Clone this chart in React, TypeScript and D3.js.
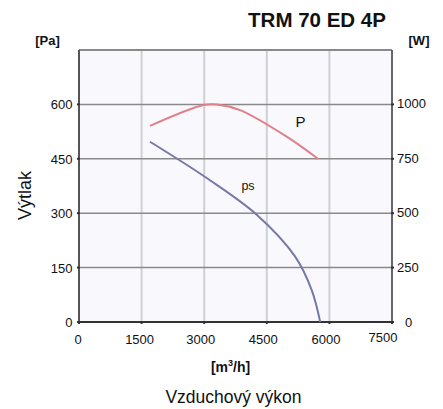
import React from "react";
import * as d3 from "d3";

const xTicks = [0, 1500, 3000, 4500, 6000, 7500];
const yLeftTicks = [0, 150, 300, 450, 600];
const yRightTicks = [0, 250, 500, 750, 1000];

// P curve (W, right axis)
const powerFlow = [1701, 2979, 3300, 3858, 4977, 5734];
const powerW = [901, 997, 1000, 974, 852, 749];

// ps curve (Pa, left axis)
const psFlow = [1701, 3060, 4258, 5176, 5576, 5780];
const psPa = [497, 397, 296, 181, 88, 0];

const W = 443;
const H = 409;
const left = 79;
const right = 392;
const top = 50;
const bottom = 322;

export default function App() {
  const x = d3.scaleLinear().domain([0, 7500]).range([left, right]);
  const yL = d3.scaleLinear().domain([0, 750]).range([bottom, top]);
  const yR = d3.scaleLinear().domain([0, 1250]).range([bottom, top]);

  const powerLine = d3
    .line<number>()
    .x((_, i) => x(powerFlow[i]))
    .y((d) => yR(d))
    .curve(d3.curveCatmullRom.alpha(0.5))(powerW) as string;
  const psLine = d3
    .line<number>()
    .x((_, i) => x(psFlow[i]))
    .y((d) => yL(d))
    .curve(d3.curveCatmullRom.alpha(0.5))(psPa) as string;

  const font = "'Liberation Sans', Arial, sans-serif";

  return (
    <svg
      width={W}
      height={H}
      style={{ position: "absolute", left: 0, top: 0, background: "#fff" }}
      fontFamily={font}
    >
      <rect x={left} y={top} width={right - left} height={bottom - top} fill="#f9f9fd" />
      {xTicks.slice(1, -1).map((t) => (
        <line key={"vx" + t} x1={x(t)} x2={x(t)} y1={top} y2={bottom} stroke="#cfcfd6" strokeWidth={2} />
      ))}
      {yLeftTicks.slice(1).map((t) => (
        <line key={"hy" + t} x1={left} x2={right} y1={yL(t)} y2={yL(t)} stroke="#8a8a8a" strokeWidth={1.5} />
      ))}
      <line x1={left} x2={right} y1={top} y2={top} stroke="#8a8a8a" strokeWidth={2} />
      <line x1={left} x2={right} y1={bottom} y2={bottom} stroke="#333" strokeWidth={2} />
      <line x1={left} x2={left} y1={top} y2={bottom} stroke="#555" strokeWidth={2} />
      <line x1={right} x2={right} y1={top} y2={bottom} stroke="#666" strokeWidth={2} />

      {xTicks.map((t) => (
        <line key={"tx" + t} x1={x(t)} x2={x(t)} y1={bottom - 1} y2={bottom + 2} stroke="#333" strokeWidth={2} />
      ))}
      {yLeftTicks.map((t) => (
        <line key={"tl" + t} x1={left - 2} x2={left + 1} y1={yL(t)} y2={yL(t)} stroke="#333" strokeWidth={2} />
      ))}
      {yRightTicks.map((t) => (
        <line key={"tr" + t} x1={right - 1} x2={right + 2} y1={yR(t)} y2={yR(t)} stroke="#333" strokeWidth={2} />
      ))}

      <path d={powerLine} fill="none" stroke="#e08088" strokeWidth={2} />
      <path d={psLine} fill="none" stroke="#7878a8" strokeWidth={2} />

      <text x={300.5} y={127} fontSize={15} fill="#111" textAnchor="middle">P</text>
      <text x={248} y={190} fontSize={12.5} fill="#111" textAnchor="middle">ps</text>

      {yLeftTicks.map((t) => (
        <text key={"ll" + t} x={72.5} y={yL(t) + 5} fontSize={13} textAnchor="end" fill="#111">{t}</text>
      ))}
      {yRightTicks.map((t) => (
        <text key={"rl" + t} x={t === 0 ? 405 : 397} y={yR(t) + (t === 0 ? 5 : 4)} fontSize={13} textAnchor="start" fill="#111">{t}</text>
      ))}
      {xTicks.map((t) => (
        <text key={"xl" + t} x={x(t) - (t === 0 ? 1 : t === 7500 ? 9 : t === 1500 ? 2 : 3.5)} y={t === 7500 ? 342 : 343.5} fontSize={13} textAnchor="middle" fill="#111">{t}</text>
      ))}

      <text x={317} y={27} fontSize={20.5} fontWeight="bold" textAnchor="middle" fill="#111">TRM 70 ED 4P</text>
      <text x={47.5} y={45} fontSize={13} fontWeight="bold" textAnchor="middle" fill="#111">[Pa]</text>
      <text x={419} y={45} fontSize={13} fontWeight="bold" textAnchor="middle" fill="#111">[W]</text>
      <text x={230.5} y={372} fontSize={14} fontWeight="bold" textAnchor="middle" fill="#111">
        [m<tspan fontSize={9} dy={-6}>3</tspan><tspan dy={6}>/h]</tspan>
      </text>
      <text x={233.5} y={403} fontSize={17.5} textAnchor="middle" fill="#111">Vzduchový výkon</text>
      <text transform={`translate(31,195.5) rotate(-90)`} fontSize={18} textAnchor="middle" fill="#111">Výtlak</text>
    </svg>
  );
}
